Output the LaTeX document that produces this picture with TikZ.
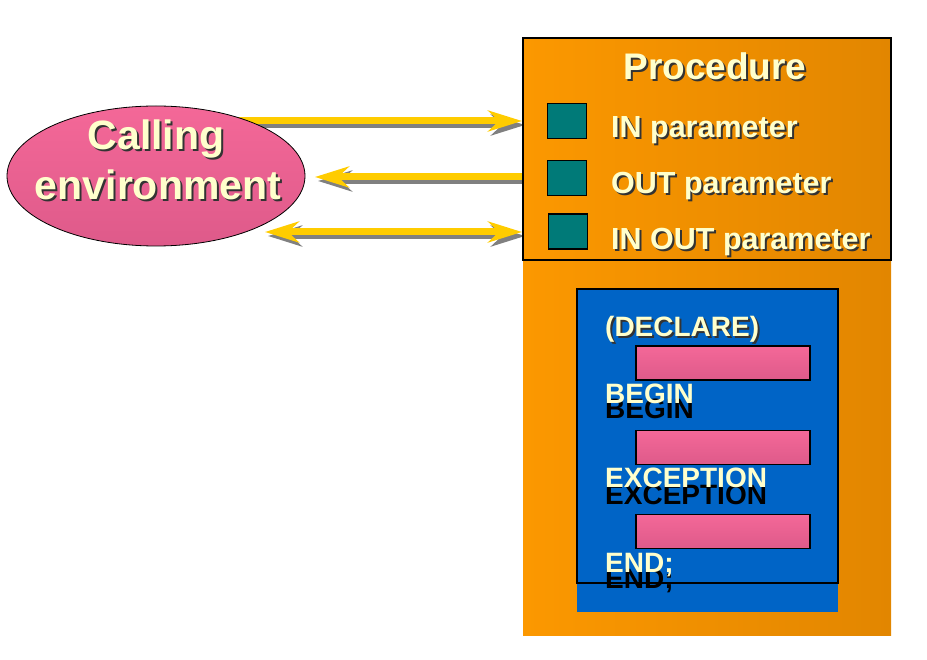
\documentclass[tikz,border=0pt]{standalone}
\usepackage{fontspec}
\setmainfont{Liberation Sans}
\usepackage{graphicx}
\usetikzlibrary{arrows.meta, shapes.geometric, positioning, calc, backgrounds}
\definecolor{PanelOrange}{RGB}{252,152,0}
\definecolor{PanelOrangeDark}{RGB}{226,134,0}
\definecolor{BlockBlue}{RGB}{0,100,198}
\definecolor{EnvPink}{RGB}{244,104,152}
\definecolor{EnvPinkDark}{RGB}{222,90,138}
\definecolor{ParamTeal}{RGB}{0,122,120}
\definecolor{LabelCream}{RGB}{255,255,204}
\definecolor{PipeYellow}{RGB}{255,204,0}
\definecolor{PipeShadow}{RGB}{128,128,128}

\newcommand{\shadowed}[1]{%
  \makebox[0pt][l]{\hspace{2pt}\raisebox{-2pt}{\color{black!80}#1}}%
  {\color{LabelCream}#1}}

\begin{document}
\begin{tikzpicture}[x=1pt,y=-1pt,
  >={Stealth[length=34pt,width=21pt,inset=11pt]},
  pipe/.style={PipeYellow, line width=7pt},
  pipeshadow/.style={PipeShadow, line width=7pt,
    transform canvas={shift={(3pt,-4pt)}}},
  parambox/.style={draw, line width=1.5pt, fill=ParamTeal, inner sep=0pt,
    minimum width=39pt, minimum height=35pt},
  codebar/.style={draw, line width=1.5pt, top color=EnvPink,
    bottom color=EnvPinkDark, inner sep=0pt,
    minimum width=174pt, minimum height=34pt},
  envtext/.style={font=\bfseries\fontsize{41}{50}\selectfont,
    inner sep=0pt, anchor=base},
  titletext/.style={font=\bfseries\fontsize{37}{40}\selectfont,
    inner sep=0pt, anchor=base},
  paramtext/.style={font=\bfseries\fontsize{30.5}{34}\selectfont,
    inner sep=0pt, anchor=base west},
  codetext/.style={font=\bfseries\fontsize{28}{32}\selectfont,
    inner sep=0pt, anchor=base west, text=LabelCream},
  codeshadow/.style={codetext, text=black}]
  \useasboundingbox (0,0) rectangle (927,660);

  % procedure panel
  \node[left color=PanelOrange, right color=PanelOrangeDark, inner sep=0pt,
    minimum width=368pt, minimum height=597pt] (panel) at (707,336.5) {};
  \node[draw, line width=2pt, inner sep=0pt,
    minimum width=368pt, minimum height=222pt] (proc) at (707,149) {};
  \node[titletext] (procTitle) at (715,80) {\shadowed{Procedure}};

  % parameters
  \node[parambox] (pin) at (567,121) {};
  \node[parambox] (pout) at (567,178) {};
  \node[parambox] (pinout) at (568,231.5) {};
  \node[paramtext] (pinText) at (611,138) {\shadowed{IN parameter}};
  \node[paramtext] (poutText) at (611,194) {\shadowed{OUT parameter}};
  \node[paramtext] (pinoutText) at (611,250) {\shadowed{IN OUT parameter}};

  % PL/SQL block
  \node[fill=BlockBlue, inner sep=0pt,
    minimum width=261pt, minimum height=323pt] (blockFill) at (707.5,450.5) {};
  \node[draw, line width=1.5pt, inner sep=0pt,
    minimum width=261pt, minimum height=294pt] (block) at (707.5,436) {};
  \node[codetext] (declare) at (605,337) {\shadowed{(DECLARE)}};
  \node[codebar] (declBar) at (723,363) {};
  \node[codeshadow] (beginShadow) at (605,419) {BEGIN};
  \node[codetext] (begin) at (605,403) {BEGIN};
  \node[codebar] (bodyBar) at (723,447.5) {};
  \node[codeshadow] (excShadow) at (605,504) {EXCEPTION};
  \node[codetext] (exception) at (605,487) {EXCEPTION};
  \node[codebar] (excBar) at (723,531.5) {};
  \node[codeshadow] (endShadow) at (605,588) {END;};
  \node[codetext] (endKw) at (605,572) {END;};

  % calling environment
  \node[ellipse, draw, thick, top color=EnvPink, bottom color=EnvPinkDark,
    minimum width=298pt, minimum height=140pt] (calling) at (156,176) {};
  \node[envtext] (callingTop) at (156,150) {\shadowed{Calling}};
  \node[envtext] (callingBottom) at (158,200) {\shadowed{environment}};

  % parameter passing
  \coordinate (outTip) at (315,177);
  \coordinate (inoutTip) at (265,232);
  \begin{scope}[on background layer]
    \draw[pipeshadow,->] (calling |- pin) -- (proc.west |- pin);
    \draw[pipeshadow,->] (proc.west |- outTip) -- (outTip);
    \draw[pipeshadow,<->] (inoutTip) -- (proc.west |- inoutTip);
    \draw[pipe,->] (calling |- pin) -- (proc.west |- pin);
    \draw[pipe,->] (proc.west |- outTip) -- (outTip);
    \draw[pipe,<->] (inoutTip) -- (proc.west |- inoutTip);
  \end{scope}
\end{tikzpicture}
\end{document}
